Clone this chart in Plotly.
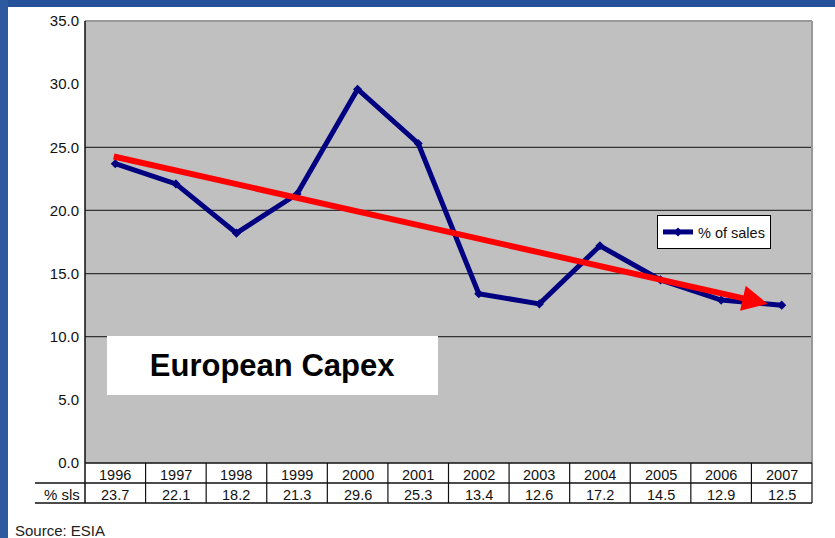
import plotly.graph_objects as go

# ---- data ----
years = ["1996", "1997", "1998", "1999", "2000", "2001", "2002", "2003", "2004", "2005", "2006", "2007"]
pct_sales = [23.7, 22.1, 18.2, 21.3, 29.6, 25.3, 13.4, 12.6, 17.2, 14.5, 12.9, 12.5]
value_labels = ["23.7", "22.1", "18.2", "21.3", "29.6", "25.3", "13.4", "12.6", "17.2", "14.5", "12.9", "12.5"]
y_ticks = [0, 5, 10, 15, 20, 25, 30, 35]
y_tick_labels = ["0.0", "5.0", "10.0", "15.0", "20.0", "25.0", "30.0", "35.0"]
grid_values = [10, 15, 20, 25]
trend_start = (-0.05, 24.3)
trend_end = (10.77, 12.6)
series_name = "% of sales"
row_label = "% sls"
title_box = "European Capex"
source = "Source: ESIA"

W, H = 835, 538
L, R, T, B = 85, 812, 21, 463
PW, PH = R - L, B - T


def px_x(p):
    return (p - L) / PW


def px_y(q):
    return (B - q) / PH


FONT = "Liberation Sans, Arial, sans-serif"
xs = list(range(len(years)))

fig = go.Figure()
fig.add_trace(go.Scatter(
    x=xs, y=pct_sales, mode="lines+markers", name=series_name,
    line=dict(color="#000080", width=5),
    marker=dict(symbol="diamond", size=7, color="#000080"),
))

shapes = []
# slide background strips
shapes.append(dict(type="rect", xref="paper", yref="paper", x0=px_x(0), x1=px_x(W), y0=px_y(0), y1=px_y(7),
                   fillcolor="#25509a", line=dict(width=0), layer="below"))
shapes.append(dict(type="rect", xref="paper", yref="paper", x0=px_x(0), x1=px_x(8), y0=px_y(0), y1=px_y(H),
                   fillcolor="#2d5a9e", line=dict(width=0), layer="below"))
# grid lines
for g in grid_values:
    shapes.append(dict(type="line", xref="paper", yref="y", x0=0, x1=1, y0=g, y1=g,
                       line=dict(color="#333333", width=1.2), layer="below"))
# plot border top/right
shapes.append(dict(type="line", xref="paper", yref="paper", x0=0, x1=1, y0=1, y1=1,
                   line=dict(color="#999999", width=2)))
shapes.append(dict(type="line", xref="paper", yref="paper", x0=1, x1=1, y0=0, y1=1,
                   line=dict(color="#999999", width=2)))
# left axis and bottom axis
shapes.append(dict(type="line", xref="paper", yref="paper", x0=0, x1=0, y0=px_y(503), y1=1,
                   line=dict(color="#111111", width=1.5)))
shapes.append(dict(type="line", xref="paper", yref="paper", x0=0, x1=1, y0=0, y1=0,
                   line=dict(color="#111111", width=1.5)))
# table lines
for q in (483, 503):
    shapes.append(dict(type="line", xref="paper", yref="paper", x0=px_x(35), x1=1, y0=px_y(q), y1=px_y(q),
                       line=dict(color="#111111", width=1.5)))
for k in range(1, len(years) + 1):
    xp = k / len(years)
    shapes.append(dict(type="line", xref="paper", yref="paper", x0=xp, x1=xp, y0=px_y(503), y1=0,
                       line=dict(color="#111111", width=1.2)))

annotations = []
for i, (yr, v) in enumerate(zip(years, value_labels)):
    annotations.append(dict(x=i, y=px_y(475.5), xref="x", yref="paper", text=yr, showarrow=False,
                            font=dict(family=FONT, size=14.5, color="#111111"), xanchor="center", yanchor="middle"))
    annotations.append(dict(x=i, y=px_y(495), xref="x", yref="paper", text=v, showarrow=False,
                            font=dict(family=FONT, size=14.5, color="#111111"), xanchor="center", yanchor="middle"))
annotations.append(dict(x=px_x(82), y=px_y(494), xref="paper", yref="paper", text=row_label, showarrow=False,
                        font=dict(family=FONT, size=15, color="#111111"), xanchor="right", yanchor="middle"))
# trend arrow
annotations.append(dict(x=trend_end[0], y=trend_end[1], ax=trend_start[0], ay=trend_start[1],
                        xref="x", yref="y", axref="x", ayref="y", text="", showarrow=True,
                        arrowhead=2, arrowsize=0.85, arrowwidth=6, arrowcolor="#ff0000"))
# title box
annotations.append(dict(x=px_x(272.5), y=px_y(365.5), xref="paper", yref="paper", text="<b>" + title_box + "</b>",
                        showarrow=False, font=dict(family=FONT, size=31, color="#000000"),
                        bgcolor="#ffffff", width=331, height=59, borderpad=0, borderwidth=0,
                        xanchor="center", yanchor="middle"))
# source
annotations.append(dict(x=px_x(13), y=px_y(530), xref="paper", yref="paper", text=source, showarrow=False,
                        font=dict(family=FONT, size=15, color="#222222"), xanchor="left", yanchor="middle"))

fig.update_layout(
    width=W, height=H,
    margin=dict(l=L, r=W - R, t=T, b=H - B, pad=0),
    paper_bgcolor="#ffffff", plot_bgcolor="#c0c0c0",
    xaxis=dict(range=[-0.5, len(years) - 0.5], showgrid=False, zeroline=False, showticklabels=False,
               showline=False, ticks="", fixedrange=True),
    yaxis=dict(range=[0, 35], tickvals=y_ticks, ticktext=y_tick_labels, showgrid=False, zeroline=False,
               showline=False, ticks="", ticklabelstandoff=5,
               tickfont=dict(family=FONT, size=15, color="#111111")),
    showlegend=True,
    legend=dict(x=px_x(657), y=px_y(215), xanchor="left", yanchor="top", bgcolor="#ffffff",
                bordercolor="#000000", borderwidth=1, font=dict(family=FONT, size=14.5, color="#111111"),
                itemwidth=30, tracegroupgap=0),
    shapes=shapes, annotations=annotations,
)

fig.write_html("out.html")
